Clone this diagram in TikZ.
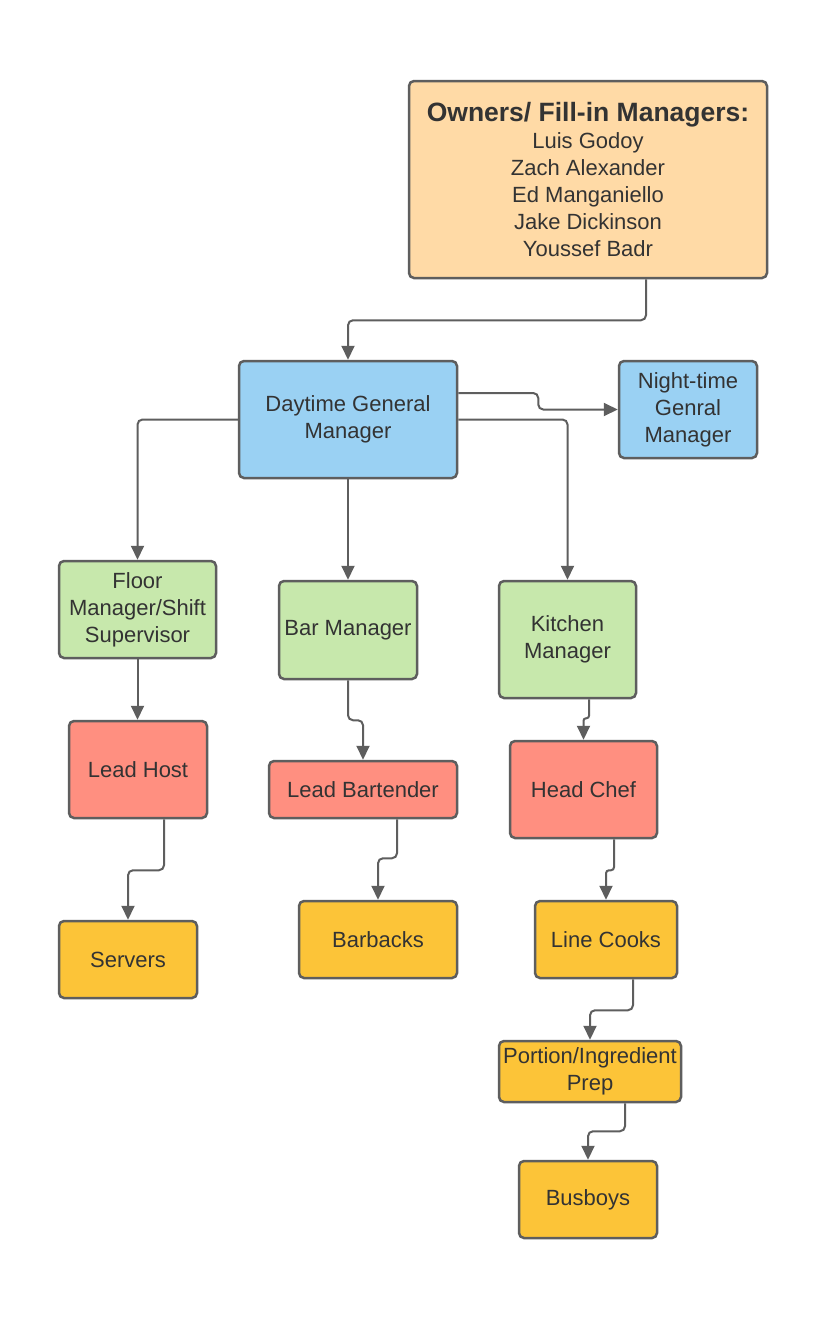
\documentclass[tikz,border=0pt]{standalone}
\usepackage{fontspec}
\setmainfont{Liberation Sans}
\usetikzlibrary{arrows.meta,calc}

\definecolor{peach}{HTML}{FFDAA6}
\definecolor{skyblue}{HTML}{9AD1F3}
\definecolor{mintgreen}{HTML}{C7E8AC}
\definecolor{salmon}{HTML}{FF8F80}
\definecolor{gold}{HTML}{FCC438}
\definecolor{edge}{HTML}{5E5E5E}
\definecolor{ink}{HTML}{333333}

\begin{document}
\begin{tikzpicture}[x=1pt,y=-1pt,
	box/.style={draw=edge,line width=2.5pt,rounded corners=5pt,inner sep=0pt,
		align=center,text=ink,font=\fontsize{22}{27}\selectfont},
	link/.style={draw=edge,line width=2pt,rounded corners=5pt,
		-{Triangle[length=14pt,width=13pt]}}]

\fill[white] (0,0) rectangle (825,1320);
\useasboundingbox (0,0) rectangle (825,1320);

% owners
\node[box,fill=peach,minimum width=358pt,minimum height=197pt] (own) at (588,179.5)
	{{\bfseries\fontsize{26.5}{31}\selectfont Owners/ Fill-in Managers:}\\
	Luis Godoy\\Zach Alexander\\Ed Manganiello\\Jake Dickinson\\Youssef Badr};

% managers
\node[box,fill=skyblue,minimum width=218pt,minimum height=117pt] (dgm) at (348,419.5)
	{Daytime General\\Manager};
\node[box,fill=skyblue,minimum width=138pt,minimum height=97pt] (ngm) at (688,409.5)
	{Night-time\\Genral\\Manager};

\node[box,fill=mintgreen,minimum width=157pt,minimum height=97pt] (fm) at (137.5,609.5)
	{Floor\\Manager/Shift\\Supervisor};
\node[box,fill=mintgreen,minimum width=138pt,minimum height=98pt] (bm) at (348,630)
	{Bar Manager};
\node[box,fill=mintgreen,minimum width=137pt,minimum height=117pt] (km) at (567.5,639.5)
	{Kitchen\\Manager};

% leads
\node[box,fill=salmon,minimum width=138pt,minimum height=97pt] (lh) at (138,769.5)
	{Lead Host};
\node[box,fill=salmon,minimum width=188pt,minimum height=57pt] (lb) at (363,789.5)
	{Lead Bartender};
\node[box,fill=salmon,minimum width=147pt,minimum height=97pt] (hc) at (583.5,789.5)
	{Head Chef};

% staff
\node[box,fill=gold,minimum width=138pt,minimum height=77pt] (srv) at (128,959.5)
	{Servers};
\node[box,fill=gold,minimum width=158pt,minimum height=77pt] (bb) at (378,939.5)
	{Barbacks};
\node[box,fill=gold,minimum width=142pt,minimum height=77pt] (lc) at (606,939.5)
	{Line Cooks};
\node[box,fill=gold,minimum width=182pt,minimum height=61pt] (pip) at (590,1071.5)
	{Portion/Ingredient\\Prep};
\node[box,fill=gold,minimum width=138pt,minimum height=77pt] (bus) at (588,1199.5)
	{Busboys};

% connectors
\draw[link] ([xshift=58pt]own.south) -- ++(0,41) -| (dgm.north);
\draw[link] ([yshift=26.5pt]dgm.east) -- ++(80,0) |- (ngm.west);
\draw[link] (dgm.east) -| (km.north);
\draw[link] (dgm.west) -| (fm.north);
\draw[link] (dgm.south) -- (bm.north);

\draw[link] (fm.south) -- (fm.south |- lh.north);
\draw[link] (bm.south) -- ++(0,40) -| (lb.north);
\draw[link,rounded corners=2.5pt] ([xshift=21.5pt]km.south) -- ++(0,19) -| (hc.north);

\draw[link] ([xshift=26pt]lh.south) -- ++(0,51) -| (srv.north);
\draw[link] ([xshift=34pt]lb.south) -- ++(0,39) -| (bb.north);
\draw[link,rounded corners=3pt] ([xshift=30.5pt]hc.south) -- ++(0,31) -| (lc.north);
\draw[link] ([xshift=27pt]lc.south) -- ++(0,31) -| (pip.north);
\draw[link] ([xshift=35pt]pip.south) -- ++(0,28) -| (bus.north);

\end{tikzpicture}
\end{document}
